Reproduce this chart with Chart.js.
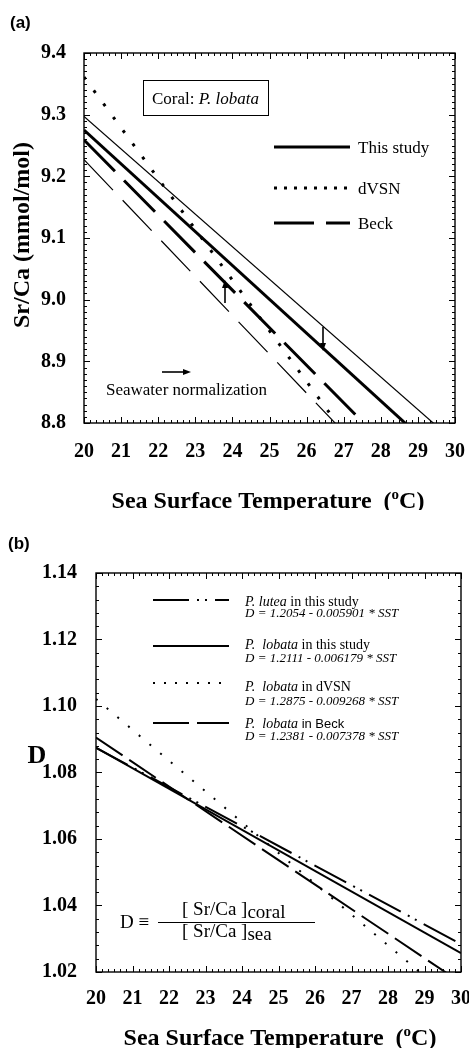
<!DOCTYPE html>
<html>
<head>
<meta charset="utf-8">
<title>Sr/Ca vs SST</title>
<script src="https://cdn.jsdelivr.net/npm/chart.js@4.4.1/dist/chart.umd.min.js"></script>
<style>
  html,body{margin:0;padding:0;background:#fff}
  body{position:relative;width:469px;height:1048px;overflow:hidden}
  canvas{position:absolute;left:0}
  #chartA{top:0}
  #chartB{top:510px}
</style>
</head>
<body>
<canvas id="chartA" width="469" height="510"></canvas>
<canvas id="chartB" width="469" height="538"></canvas>
<script>
// values: every fitted line given at SST = 20 and 30
const sstEnds = [20, 30];
const sstTicks = [20, 21, 22, 23, 24, 25, 26, 27, 28, 29, 30];

// (a) Sr/Ca (mmol/mol)
const thisStudy = [9.275, 8.726];
const thisStudyNorm = [9.297, 8.769];
const dVSN = [9.361, 8.538];
const beck = [9.259, 8.650];
const beckNorm = [9.227, 8.596];
const srcaTicks = [8.8, 8.9, 9.0, 9.1, 9.2, 9.3, 9.4];

// (b) D = [Sr/Ca]coral / [Sr/Ca]sea
const dLutea = [1.0874, 1.0284];
const dLobata = [1.0875, 1.0257];
const dLobataDVSN = [1.1021, 1.0095];
const dLobataBeck = [1.0905, 1.0168];
const dTicks = [1.02, 1.04, 1.06, 1.08, 1.10, 1.12, 1.14];

const SERIF = '"Liberation Serif", "Times New Roman", Times, serif';
const SANS = '"Liberation Sans", Arial, sans-serif';
const tickFont = { family: SERIF, size: 20, weight: 'bold', lineHeight: 1.2 };

function pts(ys) {
  return sstEnds.map((x, i) => ({ x: x, y: ys[i] }));
}
function line(label, ys, width, dash) {
  return {
    label: label, data: pts(ys), borderColor: '#000', borderWidth: width,
    borderDash: dash, borderCapStyle: 'butt', pointRadius: 0, tension: 0,
    fill: false, clip: 0
  };
}

function makeScales(yTicks, yMin, yMax, digits, yPad, xPad, xHeight, yWidth) {
  return {
    x: {
      type: 'linear', min: 20, max: 30,
      grid: { display: false }, border: { display: false },
      afterBuildTicks: s => { s.ticks = sstTicks.map(v => ({ value: v })); },
      ticks: { font: tickFont, color: '#000', padding: xPad, maxRotation: 0, autoSkip: false,
               callback: v => String(v) },
      afterFit: s => { s.height = xHeight; s.paddingLeft = 0; s.paddingRight = 0; }
    },
    y: {
      type: 'linear', min: yMin, max: yMax,
      grid: { display: false }, border: { display: false },
      afterBuildTicks: s => { s.ticks = yTicks.map(v => ({ value: v })); },
      ticks: { font: tickFont, color: '#000', padding: yPad, callback: v => Number(v).toFixed(digits) },
      afterFit: s => { s.width = yWidth; s.paddingTop = 0; s.paddingBottom = 0; }
    }
  };
}

// frame with inward ticks on all four sides
function drawFrame(chart, xPer, yStep, yEvery) {
  const { ctx, chartArea: a } = chart;
  const sx = chart.scales.x, sy = chart.scales.y;
  ctx.save();
  ctx.strokeStyle = '#000';
  ctx.setLineDash([]);
  ctx.lineWidth = 1.4;
  ctx.strokeRect(a.left, a.top, a.right - a.left, a.bottom - a.top);
  ctx.lineWidth = 1;
  ctx.beginPath();
  const nx = (sx.max - sx.min) * xPer;
  for (let i = 0; i <= nx; i++) {
    const px = Math.round(sx.getPixelForValue(sx.min + i / xPer)) + 0.5;
    const len = i % xPer === 0 ? 6 : 3;
    ctx.moveTo(px, a.bottom); ctx.lineTo(px, a.bottom - len);
    ctx.moveTo(px, a.top); ctx.lineTo(px, a.top + len);
  }
  const ny = Math.round((sy.max - sy.min) / yStep);
  for (let j = 0; j <= ny; j++) {
    const py = Math.round(sy.getPixelForValue(sy.min + j * yStep)) + 0.5;
    const len = j % yEvery === 0 ? 6 : 3;
    ctx.moveTo(a.left, py); ctx.lineTo(a.left + len, py);
    ctx.moveTo(a.right, py); ctx.lineTo(a.right - len, py);
  }
  ctx.stroke();
  ctx.restore();
}

// text made of several runs (font changes, sub/superscripts)
function runs(ctx, x, y, parts, align) {
  let w = 0;
  parts.forEach(p => { ctx.font = p.f; w += ctx.measureText(p.t).width; });
  let cx = align === 'center' ? x - w / 2 : x;
  ctx.textAlign = 'left';
  ctx.textBaseline = 'alphabetic';
  parts.forEach(p => {
    ctx.font = p.f;
    ctx.fillText(p.t, cx, y + (p.dy || 0));
    cx += ctx.measureText(p.t).width;
  });
}

function sample(ctx, x1, x2, y, width, dash) {
  ctx.save();
  ctx.strokeStyle = '#000';
  ctx.lineWidth = width;
  ctx.lineCap = 'butt';
  ctx.setLineDash(dash);
  ctx.beginPath(); ctx.moveTo(x1, y); ctx.lineTo(x2, y); ctx.stroke();
  ctx.restore();
}

function arrow(ctx, x1, y1, x2, y2) {
  const ang = Math.atan2(y2 - y1, x2 - x1), h = 8, w = 3;
  const c = Math.cos(ang), s = Math.sin(ang);
  ctx.save();
  ctx.strokeStyle = '#000'; ctx.fillStyle = '#000'; ctx.lineWidth = 1.6;
  ctx.setLineDash([]);
  ctx.beginPath(); ctx.moveTo(x1, y1); ctx.lineTo(x2 - h * c * 0.7, y2 - h * s * 0.7); ctx.stroke();
  ctx.beginPath();
  ctx.moveTo(x2, y2);
  ctx.lineTo(x2 - h * c + w * s, y2 - h * s - w * c);
  ctx.lineTo(x2 - h * c - w * s, y2 - h * s + w * c);
  ctx.closePath(); ctx.fill();
  ctx.restore();
}

function xTitle(ctx, cx, base) {
  runs(ctx, cx, base, [
    { t: 'Sea Surface Temperature  (', f: 'bold 24px ' + SERIF },
    { t: 'o', f: 'bold 15px ' + SERIF, dy: -9 },
    { t: 'C)', f: 'bold 24px ' + SERIF }
  ], 'center');
}

// ---------- panel (a) ----------
const decorA = {
  id: 'decorA',
  afterDatasetsDraw(chart) {
    const ctx = chart.ctx;
    drawFrame(chart, 6, 0.01, 10);
    ctx.save();
    ctx.fillStyle = '#000';

    runs(ctx, 10, 28, [{ t: '(a)', f: 'bold 17px ' + SANS }]);

    // species box
    ctx.lineWidth = 1; ctx.strokeStyle = '#000';
    ctx.strokeRect(143.5, 80.5, 125, 35);
    runs(ctx, 152, 104, [
      { t: 'Coral: ', f: '17px ' + SERIF },
      { t: 'P. lobata', f: 'italic 17px ' + SERIF }
    ]);

    // legend
    const leg = [
      ['This study', 147, 3, []],
      ['dVSN', 188, 3, [3, 7]],
      ['Beck', 223, 3, [40, 12]]
    ];
    leg.forEach(r => {
      sample(ctx, 274, 350, r[1], r[2], r[3]);
      runs(ctx, 358, r[1] + 6, [{ t: r[0], f: '17px ' + SERIF }]);
    });

    // normalization arrows
    arrow(ctx, 225, 303, 225, 280);
    arrow(ctx, 323, 327, 323, 351);
    arrow(ctx, 162, 372, 191, 372);
    runs(ctx, 106, 395, [{ t: 'Seawater normalization', f: '17px ' + SERIF }]);

    // axis titles
    xTitle(ctx, 268, 508);
    ctx.save();
    ctx.translate(23, 235);
    ctx.rotate(-Math.PI / 2);
    ctx.font = 'bold 24px ' + SERIF;
    ctx.textAlign = 'center';
    ctx.textBaseline = 'middle';
    ctx.fillText('Sr/Ca (mmol/mol)', 0, 0);
    ctx.restore();

    ctx.restore();
  }
};

new Chart(document.getElementById('chartA'), {
  type: 'line',
  data: {
    datasets: [
      line('This study', thisStudy, 3, []),
      line('This study (normalized)', thisStudyNorm, 1.2, []),
      line('dVSN', dVSN, 3, [3, 13.5]),
      line('Beck', beck, 3, [44, 13]),
      line('Beck (normalized)', beckNorm, 1.2, [42, 14])
    ]
  },
  options: {
    responsive: false,
    animation: false,
    layout: { padding: { left: 0, top: 53, right: 14, bottom: 37 } },
    scales: makeScales(srcaTicks, 8.8, 9.4, 1, 10, 9, 50, 84),
    plugins: { legend: { display: false }, tooltip: { enabled: false } }
  },
  plugins: [decorA]
});

// ---------- panel (b) ----------
const decorB = {
  id: 'decorB',
  afterDatasetsDraw(chart) {
    const ctx = chart.ctx;
    drawFrame(chart, 6, 0.004, 5);
    ctx.save();
    ctx.fillStyle = '#000';

    runs(ctx, 8, 39, [{ t: '(b)', f: 'bold 17px ' + SANS }]);

    const it14 = 'italic 14px ' + SERIF, rg14 = '14px ' + SERIF, eq = 'italic 13px ' + SERIF;
    const leg = [
      [90, 96, [{ t: 'P. lutea', f: it14 }, { t: ' in this study', f: rg14 }],
        'D = 1.2054 - 0.005901 * SST', 107, 2, [36, 8, 2, 6, 2, 8]],
      [136, 139, [{ t: 'P.  lobata', f: it14 }, { t: ' in this study', f: rg14 }],
        'D = 1.2111 - 0.006179 * SST', 152, 2, []],
      [173, 181, [{ t: 'P.  lobata', f: it14 }, { t: ' in dVSN', f: rg14 }],
        'D = 1.2875 - 0.009268 * SST', 195, 2, [2, 9]],
      [213, 218, [{ t: 'P.  lobata', f: it14 }, { t: ' in Beck', f: '13px ' + SANS }],
        'D = 1.2381 - 0.007378 * SST', 230, 2, [36, 8]]
    ];
    leg.forEach(r => {
      sample(ctx, 153, 229, r[0], r[5], r[6]);
      runs(ctx, 245, r[1], r[2]);
      runs(ctx, 245, r[4], [{ t: r[3], f: eq }]);
    });

    // definition of D
    const f19 = '19px ' + SERIF;
    runs(ctx, 120, 418, [{ t: 'D \u2261', f: f19 }]);
    runs(ctx, 182, 405, [{ t: '[ Sr/Ca ]', f: f19 }, { t: 'coral', f: f19, dy: 3 }]);
    runs(ctx, 182, 427, [{ t: '[ Sr/Ca ]', f: f19 }, { t: 'sea', f: f19, dy: 3 }]);
    ctx.lineWidth = 1; ctx.strokeStyle = '#000'; ctx.setLineDash([]);
    ctx.beginPath(); ctx.moveTo(158, 412.5); ctx.lineTo(315, 412.5); ctx.stroke();

    // axis titles
    xTitle(ctx, 280, 535);
    ctx.font = 'bold 26px ' + SERIF;
    ctx.textAlign = 'center';
    ctx.textBaseline = 'middle';
    ctx.fillText('D', 37, 246);

    ctx.restore();
  }
};

new Chart(document.getElementById('chartB'), {
  type: 'line',
  data: {
    datasets: [
      line('P. lutea in this study', dLutea, 2, [36, 8, 2, 6, 2, 8]),
      line('P. lobata in this study', dLobata, 2, []),
      line('P. lobata in dVSN', dLobataDVSN, 2, [2, 12]),
      line('P. lobata in Beck', dLobataBeck, 2, [32, 8])
    ]
  },
  options: {
    responsive: false,
    animation: false,
    layout: { padding: { left: 0, top: 63, right: 8, bottom: 36 } },
    scales: makeScales(dTicks, 1.02, 1.14, 2, 11, 7, 40, 96),
    plugins: { legend: { display: false }, tooltip: { enabled: false } }
  },
  plugins: [decorB]
});
</script>
</body>
</html>
